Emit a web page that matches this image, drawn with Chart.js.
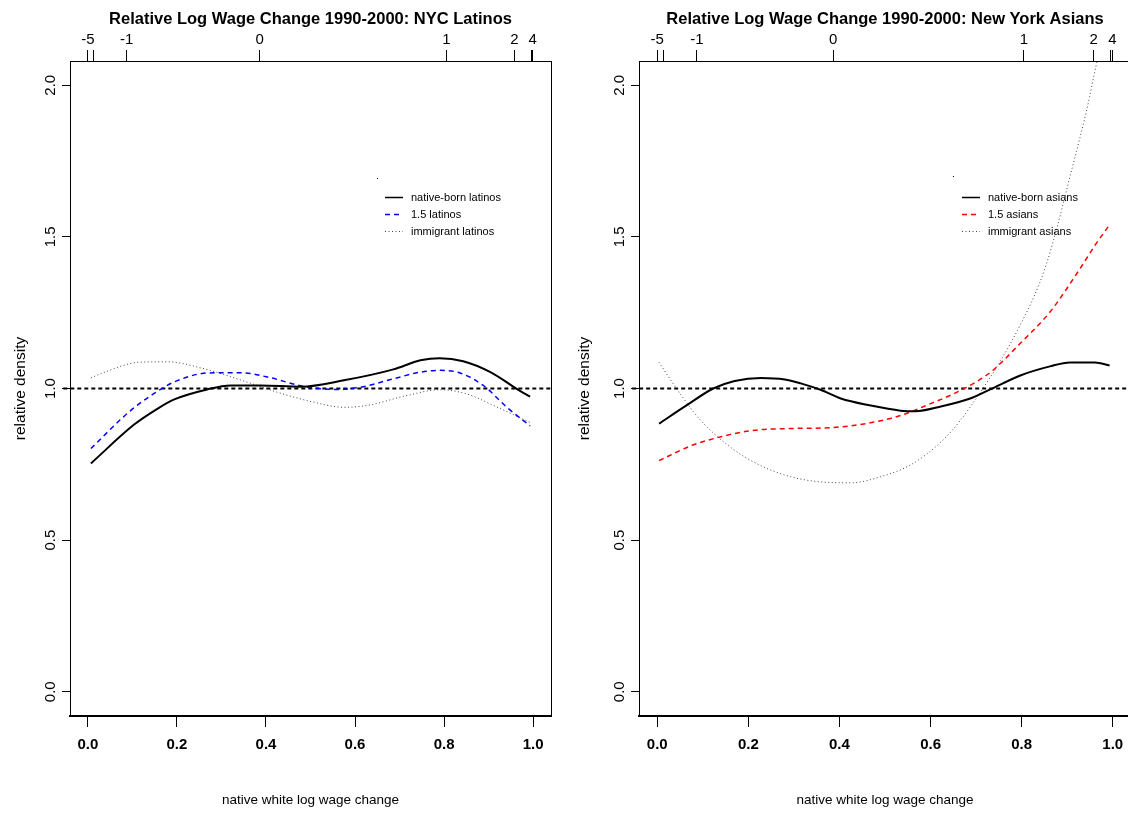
<!DOCTYPE html>
<html>
<head>
<meta charset="utf-8">
<script src="https://cdn.jsdelivr.net/npm/chart.js"></script>
<style>
  body { margin: 0; background: #fff; }
  .panel { position: absolute; top: 0; height: 815px; overflow: hidden; }
  #left { left: 0; width: 564px; }
  #right { left: 564px; width: 564px; }
</style>
</head>
<body>
<div class="panel" id="left"><canvas id="latino_chart" width="564" height="815"></canvas></div>
<div class="panel" id="right"><canvas id="asian_chart" width="580" height="815"></canvas></div>
<script>
const FONT = "'Liberation Sans Narrow', 'Liberation Sans', Arial, sans-serif";

// axis ticks
const xTicks = [0, 0.2, 0.4, 0.6, 0.8, 1.0];
const yTicks = [0, 0.5, 1.0, 1.5, 2.0];
// top axis = native white log wage change (quantile positions)
const topTickPos = [0, 0.013, 0.087, 0.386, 0.805, 0.958, 0.996, 0.999];
const topTickLabels = ['-5', '', '-1', '0', '1', '2', '', '4'];

// NYC Latinos
const latNativeX = [0.007, 0.104, 0.156, 0.194, 0.268, 0.321, 0.388, 0.478, 0.575, 0.686, 0.747, 0.790, 0.843, 0.904, 0.963, 0.993];
const latNativeY = [0.753, 0.881, 0.933, 0.964, 0.997, 1.010, 1.010, 1.006, 1.027, 1.063, 1.093, 1.100, 1.090, 1.054, 0.999, 0.973];
const lat15X = [0.007, 0.096, 0.171, 0.201, 0.268, 0.343, 0.403, 0.485, 0.560, 0.612, 0.686, 0.747, 0.791, 0.836, 0.888, 0.941, 0.993];
const lat15Y = [0.802, 0.927, 1.004, 1.026, 1.051, 1.052, 1.038, 1.007, 0.997, 1.004, 1.032, 1.054, 1.060, 1.051, 1.010, 0.938, 0.877];
const latImmX = [0.007, 0.029, 0.119, 0.179, 0.261, 0.358, 0.425, 0.507, 0.575, 0.627, 0.717, 0.791, 0.851, 0.911, 0.993];
const latImmY = [1.035, 1.049, 1.087, 1.088, 1.065, 1.021, 0.988, 0.955, 0.938, 0.944, 0.977, 0.996, 0.982, 0.944, 0.888];

// New York Asians
const asNativeX = [0.004, 0.060, 0.123, 0.170, 0.228, 0.280, 0.315, 0.360, 0.403, 0.468, 0.534, 0.567, 0.621, 0.687, 0.731, 0.797, 0.862, 0.906, 0.961, 0.993];
const asNativeY = [0.884, 0.940, 1.000, 1.025, 1.035, 1.030, 1.017, 0.995, 0.967, 0.944, 0.927, 0.925, 0.940, 0.967, 0.997, 1.043, 1.073, 1.086, 1.086, 1.076];
const as15X = [0.004, 0.074, 0.140, 0.206, 0.293, 0.381, 0.468, 0.534, 0.600, 0.665, 0.731, 0.797, 0.862, 0.928, 0.960, 0.993];
const as15Y = [0.762, 0.811, 0.841, 0.861, 0.868, 0.871, 0.887, 0.911, 0.950, 0.993, 1.053, 1.149, 1.252, 1.395, 1.470, 1.540];
const asImmX = [0.004, 0.053, 0.096, 0.162, 0.228, 0.293, 0.359, 0.425, 0.490, 0.556, 0.621, 0.665, 0.709, 0.753, 0.797, 0.840, 0.867, 0.910, 0.943, 0.965, 0.985];
const asImmY = [1.086, 0.977, 0.894, 0.805, 0.745, 0.709, 0.692, 0.689, 0.709, 0.748, 0.821, 0.894, 0.987, 1.090, 1.210, 1.350, 1.473, 1.722, 1.920, 2.076, 2.200];

const refX = [-0.055, 1.04];
const refY = [1, 1];

const pts = (xs, ys) => xs.map((x, i) => ({x: x, y: ys[i]}));

// box around plot region
const boxPlugin = {
  id: 'box',
  afterDraw(chart) {
    const a = chart.chartArea, ctx = chart.ctx;
    ctx.save();
    ctx.strokeStyle = '#000';
    ctx.lineWidth = 1;
    ctx.strokeRect(a.left + 0.5, a.top + 0.5, a.right - a.left, a.bottom - a.top);
    ctx.restore();
  }
};

// legend drawn inside the plot region
const insideLegend = {
  id: 'insideLegend',
  afterDraw(chart, args, opts) {
    const ctx = chart.ctx;
    ctx.save();
    ctx.fillStyle = '#000';
    ctx.fillRect(opts.dotX, opts.dotY, 1, 1);
    ctx.font = '11px ' + FONT;
    ctx.textBaseline = 'middle';
    chart.data.datasets.filter(d => d.label).forEach((d, i) => {
      const y = opts.y + i * opts.rowH + 0.5;
      ctx.strokeStyle = d.borderColor;
      ctx.lineWidth = Math.min(d.borderWidth, 1.5);
      ctx.setLineDash(d.borderDash || []);
      ctx.beginPath();
      ctx.moveTo(opts.x, y);
      ctx.lineTo(opts.x + opts.lineLen, y);
      ctx.stroke();
      ctx.fillStyle = '#000';
      ctx.fillText(d.label, opts.x + opts.lineLen + 8, y);
    });
    ctx.restore();
  }
};

function makeChart(id, title, series, leftW, padRight, legendPos) {
  const datasets = series.map(s => ({
    label: s.label,
    data: s.data,
    borderColor: s.color,
    borderWidth: s.width,
    borderDash: s.dash,
    pointRadius: 0,
    cubicInterpolationMode: 'monotone',
    fill: false
  }));
  datasets.push({
    data: pts(refX, refY),
    borderColor: '#000',
    borderWidth: 2,
    borderDash: [4, 3],
    pointRadius: 0,
    clip: false
  });

  return new Chart(document.getElementById(id), {
    type: 'line',
    data: { datasets: datasets },
    plugins: [boxPlugin, insideLegend],
    options: {
      responsive: false,
      animation: false,
      layout: { padding: { left: 0, right: padRight, top: 0, bottom: 0 } },
      plugins: {
        legend: { display: false },
        tooltip: { enabled: false },
        insideLegend: legendPos
      },
      scales: {
        x: {
          type: 'linear',
          position: 'bottom',
          min: -0.04, max: 1.04,
          afterBuildTicks: s => { s.ticks = xTicks.map(v => ({value: v})); },
          afterFit: s => { s.height = 99; },
          ticks: {
            color: '#000', padding: 9, autoSkip: false, maxRotation: 0,
            font: { family: FONT, size: 15, weight: 'bold' },
            callback: v => v.toFixed(1)
          },
          grid: { drawOnChartArea: false, tickLength: 11, color: '#000' },
          border: { display: true, color: '#000', width: 2 },
          title: {
            display: true, text: 'native white log wage change', color: '#000',
            font: { family: FONT, size: 13.5 }, padding: { top: 0, bottom: 7 }
          }
        },
        x2: {
          type: 'linear',
          position: 'top',
          min: -0.04, max: 1.04,
          afterBuildTicks: s => { s.ticks = topTickPos.map(v => ({value: v})); },
          afterFit: s => { s.height = 61; },
          ticks: {
            color: '#000', padding: 1, autoSkip: false, maxRotation: 0,
            font: { family: FONT, size: 15 },
            callback: (v, i) => topTickLabels[i]
          },
          grid: { drawOnChartArea: false, tickLength: 11, color: '#000' },
          border: { display: true, color: '#000', width: 1 },
          title: {
            display: true, text: title, color: '#000',
            font: { family: FONT, size: 16.5, weight: 'bold' }, padding: { top: 10, bottom: 0 }
          }
        },
        y: {
          type: 'linear',
          position: 'left',
          min: -0.08, max: 2.08,
          afterBuildTicks: s => { s.ticks = yTicks.map(v => ({value: v})); },
          afterFit: s => { s.width = leftW; },
          ticks: {
            color: '#000', padding: 1, minRotation: 90, maxRotation: 90, crossAlign: 'center',
            font: { family: FONT, size: 15 },
            callback: v => v.toFixed(1)
          },
          grid: { drawOnChartArea: false, tickLength: 8, color: '#000' },
          border: { display: true, color: '#000', width: 1 },
          title: {
            display: true, text: 'relative density', color: '#000',
            font: { family: FONT, size: 15.5 }, padding: { top: 11, bottom: 0 }
          }
        }
      }
    }
  });
}

makeChart('latino_chart', 'Relative Log Wage Change 1990-2000: NYC Latinos', [
  { label: 'native-born latinos', data: pts(latNativeX, latNativeY), color: '#000', width: 2, dash: [] },
  { label: '1.5 latinos', data: pts(lat15X, lat15Y), color: '#0000ff', width: 1.5, dash: [5, 4] },
  { label: 'immigrant latinos', data: pts(latImmX, latImmY), color: '#444', width: 1, dash: [1, 2.5] }
], 70, 13, { x: 385, y: 197, rowH: 17, lineLen: 18, dotX: 377, dotY: 178 });

makeChart('asian_chart', 'Relative Log Wage Change 1990-2000: New York Asians', [
  { label: 'native-born asians', data: pts(asNativeX, asNativeY), color: '#000', width: 2, dash: [] },
  { label: '1.5 asians', data: pts(as15X, as15Y), color: '#ff0000', width: 1.5, dash: [5, 4] },
  { label: 'immigrant asians', data: pts(asImmX, asImmY), color: '#444', width: 1, dash: [1, 2.5] }
], 75, 13, { x: 398, y: 197, rowH: 17, lineLen: 18, dotX: 389, dotY: 176 });
</script>
</body>
</html>
